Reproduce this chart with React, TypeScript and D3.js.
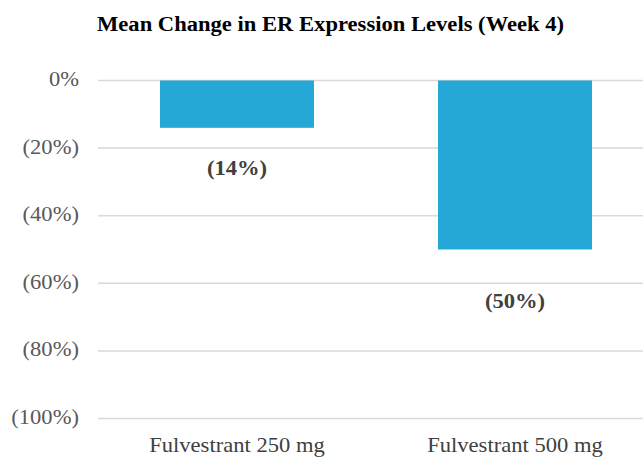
import React from "react";
import * as d3 from "d3";

const categories = ["Fulvestrant 250 mg", "Fulvestrant 500 mg"];
const values = [-0.14, -0.5];
const valueLabels = ["(14%)", "(50%)"];
const yTicks = [0, -0.2, -0.4, -0.6, -0.8, -1.0];
const yTickLabels = ["0%", "(20%)", "(40%)", "(60%)", "(80%)", "(100%)"];
const title = "Mean Change in ER Expression Levels (Week 4)";

const W = 643;
const H = 457;
const SX = 1.13;
const FONT = "'Liberation Serif', 'Times New Roman', serif";
const LABEL_OFFSETS = [47, 58];

export default function App() {
  const y = d3.scaleLinear().domain([-1, 0]).range([418.5, 80.5]);
  const x = d3
    .scaleBand<string>()
    .domain(categories)
    .range([98, 654])
    .paddingInner(0.446)
    .paddingOuter(0.223);

  const txt = (
    key: string | number,
    tx: number,
    ty: number,
    s: string,
    anchor: string,
    opts: { size?: number; weight?: string; fill?: string } = {}
  ) => (
    <text
      key={key}
      transform={`translate(${tx},${ty}) scale(${SX},1)`}
      textAnchor={anchor as any}
      fontFamily={FONT}
      fontSize={opts.size ?? 20}
      fontWeight={opts.weight ?? "normal"}
      fill={opts.fill ?? "#595959"}
    >
      {s}
    </text>
  );

  return (
    <svg
      width={W}
      height={H}
      style={{ position: "absolute", left: 0, top: 0, background: "#fff" }}
    >
      <rect x={0} y={0} width={W} height={H} fill="#fff" />
      {txt("title", 97, 31, title, "start", { weight: "bold", fill: "#000" })}
      {yTicks.map((t, i) => (
        <g key={i}>
          <line
            x1={98}
            x2={654}
            y1={y(t)}
            y2={y(t)}
            stroke="#d9d9d9"
            strokeWidth={1.5}
          />
          {txt("yl" + i, 79, y(t) + 5.5, yTickLabels[i], "end")}
        </g>
      ))}
      {categories.map((c, i) => {
        const x0 = x(c)!;
        const bw = x.bandwidth();
        return (
          <g key={c}>
            <rect
              x={x0}
              y={y(0)}
              width={bw}
              height={y(values[i]) - y(0)}
              fill="#26A8D6"
            />
            {txt("vl" + i, x0 + bw / 2, y(values[i]) + LABEL_OFFSETS[i], valueLabels[i], "middle", {
              weight: "bold",
              fill: "#404040",
            })}
            {txt("cl" + i, x0 + bw / 2, 452, c, "middle", { fill: "#404040" })}
          </g>
        );
      })}
    </svg>
  );
}
